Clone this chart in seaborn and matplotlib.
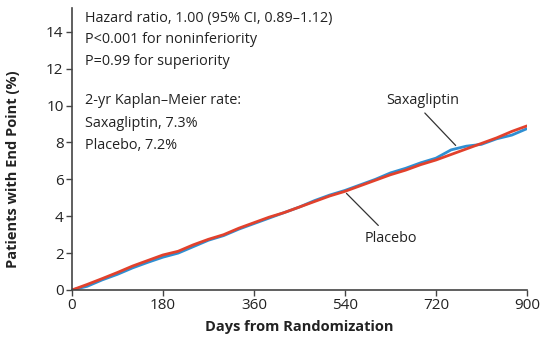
import matplotlib
matplotlib.use("Agg")
import matplotlib.pyplot as plt
import seaborn as sns
import pandas as pd

days = [0, 30, 60, 90, 120, 150, 180, 210, 240, 270, 300, 330, 360, 390, 420,
        450, 480, 510, 540, 570, 600, 630, 660, 690, 720, 750, 780, 810, 840, 870, 900]
placebo = [0, 0.3, 0.62, 0.95, 1.3, 1.6, 1.9, 2.1, 2.45, 2.75, 3.0, 3.35, 3.65, 3.95, 4.2,
           4.5, 4.8, 5.1, 5.35, 5.65, 5.95, 6.25, 6.5, 6.8, 7.05, 7.35, 7.65, 7.95, 8.25, 8.6, 8.9]
saxagliptin = [0, 0.2, 0.55, 0.85, 1.2, 1.5, 1.78, 2.0, 2.35, 2.7, 2.95, 3.3, 3.6, 3.9, 4.2,
               4.5, 4.85, 5.15, 5.4, 5.7, 6.0, 6.35, 6.6, 6.9, 7.15, 7.6, 7.8, 7.9, 8.2, 8.4, 8.75]
x_ticks = [0, 180, 360, 540, 720, 900]
y_ticks = [0, 2, 4, 6, 8, 10, 12, 14]

df = pd.concat([
    pd.DataFrame({"days": days, "pct": saxagliptin, "group": "Saxagliptin"}),
    pd.DataFrame({"days": days, "pct": placebo, "group": "Placebo"}),
])

sns.set_style("ticks")
plt.rcParams["font.family"] = ["Open Sans", "DejaVu Sans"]

fig = plt.figure(figsize=(5.41, 3.44), dpi=100)
ax = fig.add_axes([0.133, 0.157, 0.841, 0.82])
sns.lineplot(data=df, x="days", y="pct", hue="group",
             palette={"Saxagliptin": "#2f8fd2", "Placebo": "#e2412c"},
             linewidth=2.0, legend=False, ax=ax)

ax.set_xlim(0, 900)
ax.set_ylim(0, 15.3)
ax.set_xticks(x_ticks)
ax.set_yticks(y_ticks)
ax.tick_params(axis="both", labelsize=11, length=4, width=1, color="#444444", pad=2,
               labelcolor="#222222")
for s in ["top", "right"]:
    ax.spines[s].set_visible(False)
for s in ["left", "bottom"]:
    ax.spines[s].set_color("#444444")
    ax.spines[s].set_linewidth(1.2)
ax.set_xlabel("Days from Randomization", fontsize=10.5, fontweight="bold", labelpad=5,
              color="#222222")
ax.set_ylabel("Patients with End Point (%)", fontsize=10.5, fontweight="bold",
              color="#222222")
ax.yaxis.set_label_coords(-0.115, 0.43)

lines = [("Hazard ratio, 1.00 (95% CI, 0.89\u20131.12)", 14.7),
         ("P<0.001 for noninferiority", 13.6),
         ("P=0.99 for superiority", 12.4),
         ("2-yr Kaplan\u2013Meier rate:", 10.3),
         ("Saxagliptin, 7.3%", 9.05),
         ("Placebo, 7.2%", 7.85)]
for t, yy in lines:
    ax.text(25, yy, t, fontsize=10.4, va="center", ha="left", color="#222222")

ax.text(694, 10.3, "Saxagliptin", fontsize=10.4, ha="center", va="center", color="#222222")
ax.plot([698, 759], [9.6, 7.84], color="#333333", linewidth=0.9)
ax.text(631, 2.8, "Placebo", fontsize=10.4, ha="center", va="center", color="#222222")
ax.plot([543, 606], [5.24, 3.5], color="#333333", linewidth=0.9)

fig.savefig("out.png", dpi=100)
